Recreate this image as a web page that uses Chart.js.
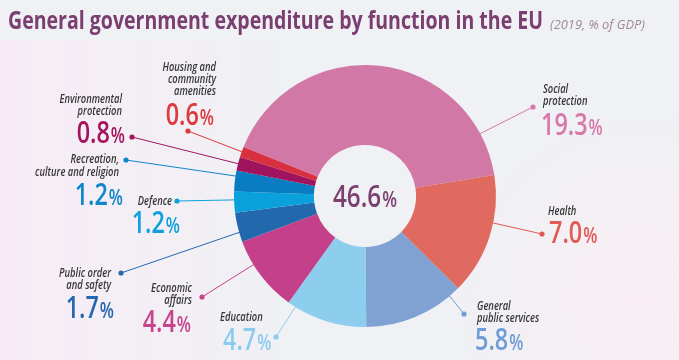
<!DOCTYPE html>
<html>
<head>
<meta charset="utf-8">
<script src="https://cdn.jsdelivr.net/npm/chart.js@4/dist/chart.umd.min.js"></script>
<style>
  html, body { margin: 0; padding: 0; background: #eff1f4; }
  canvas { display: block; }
</style>
</head>
<body>
<canvas id="chart" width="679" height="360"></canvas>
<script>
const categories = ["Social protection", "Health", "General public services", "Education", "Economic affairs",
  "Public order and safety", "Defence", "Recreation, culture and religion", "Environmental protection",
  "Housing and community amenities"];
const values = [19.3, 7.0, 5.8, 4.7, 4.4, 1.7, 1.2, 1.2, 0.8, 0.6];
const totalShare = 46.6;
const labelLines = [["Social", "protection"], ["Health"], ["General", "public services"], ["Education"],
  ["Economic", "affairs"], ["Public order", "and safety"], ["Defence"], ["Recreation,", "culture and religion"],
  ["Environmental", "protection"], ["Housing and", "community", "amenities"]];
const sliceColors = ["#d278a7", "#e06a5f", "#7fa2d2", "#8dcdee", "#c4408a", "#2168ad", "#0aa0db", "#0a7dc2", "#a0135f", "#d8303f"];
const textColors = ["#d977aa", "#e05a55", "#6f9bd6", "#8ccbee", "#c8428c", "#2468b0", "#11a0dc", "#0f86cb", "#a3155f", "#dc3a3d"];

// callout layout: name anchor x, align, name baselines, number anchor x, number baseline, dot, where the line meets the slice
const callouts = [
  { nx: 543, align: "left", ny: [93, 105], vx: 541, vy: 135, dot: [533, 107], at: 0.87 },
  { nx: 548, align: "left", ny: [215], vx: 549, vy: 243, dot: [542, 234], at: 0.39 },
  { nx: 477, align: "left", ny: [310, 322], vx: 475, vy: 350, dot: [464, 314], at: 0.11 },
  { nx: 220, align: "left", ny: [321], vx: 223, vy: 350, dot: [276, 337], at: 0.9 },
  { nx: 192, align: "right", ny: [292, 304], vx: 191, vy: 332, dot: [202, 297], at: 0.67 },
  { nx: 111, align: "right", ny: [277, 289], vx: 114, vy: 318, dot: [121, 273], at: 0.34 },
  { nx: 172, align: "right", ny: [205], vx: 180, vy: 233, dot: [177, 201], at: 0.6 },
  { nx: 119, align: "right", ny: [163, 176], vx: 123, vy: 205, dot: [126, 160], at: 0.74 },
  { nx: 122, align: "right", ny: [103, 115], vx: 125, vy: 143, dot: [132, 137], at: 0.5 },
  { nx: 216, align: "right", ny: [71, 83, 95], vx: 214, vy: 125, dot: [188, 131], at: 0.5 }
];

const FONT = "'Open Sans', 'Noto Sans', sans-serif";
const SQUEEZE = 0.78;

function drawText(ctx, text, x, y, font, color, align, sx) {
  ctx.font = font;
  const w = ctx.measureText(text).width * sx;
  const x0 = align === "right" ? x - w : align === "center" ? x - w / 2 : x;
  ctx.save();
  ctx.translate(x0, y);
  ctx.scale(sx, 1);
  ctx.fillStyle = color;
  ctx.textAlign = "left";
  ctx.textBaseline = "alphabetic";
  ctx.fillText(text, 0, 0);
  ctx.restore();
  return w;
}

function drawPercent(ctx, value, x, y, align, color, big, small) {
  const digits = value.toFixed(1);
  const fBig = "600 " + big + "px " + FONT;
  const fSmall = "600 " + small + "px " + FONT;
  ctx.font = fBig;
  const w1 = ctx.measureText(digits).width * SQUEEZE;
  ctx.font = fSmall;
  const w2 = ctx.measureText("%").width * SQUEEZE;
  const total = w1 + w2 + 1;
  const x0 = align === "right" ? x - total : align === "center" ? x - total / 2 : x;
  drawText(ctx, digits, x0, y, fBig, color, "left", SQUEEZE);
  drawText(ctx, "%", x0 + w1 + 1, y, fSmall, color, "left", SQUEEZE);
}

const backdrop = {
  id: "backdrop",
  beforeDraw(chart) {
    const ctx = chart.ctx;
    const w = chart.width, h = chart.height;
    ctx.save();
    ctx.fillStyle = "#eff1f4";
    ctx.fillRect(0, 0, w, h);
    let g = ctx.createLinearGradient(0, 0, 300, 0);
    g.addColorStop(0, "rgba(248,236,246,0.95)");
    g.addColorStop(1, "rgba(248,236,246,0)");
    ctx.fillStyle = g;
    ctx.fillRect(0, 40, w, h - 40);
    g = ctx.createRadialGradient(640, 300, 10, 640, 300, 200);
    g.addColorStop(0, "rgba(249,238,244,0.9)");
    g.addColorStop(1, "rgba(249,238,244,0)");
    ctx.fillStyle = g;
    ctx.fillRect(0, 0, w, h);
    ctx.restore();
  },
  beforeDatasetsDraw(chart) {
    const ctx = chart.ctx;
    const arcs = chart.getDatasetMeta(0).data;
    ctx.save();
    arcs.forEach((arc, i) => {
      const p = arc.getProps(["x", "y", "startAngle", "endAngle", "outerRadius"], true);
      const c = callouts[i];
      const a = p.startAngle + (p.endAngle - p.startAngle) * c.at;
      const r = p.outerRadius - 8;
      ctx.strokeStyle = textColors[i];
      ctx.lineWidth = 1;
      ctx.beginPath();
      ctx.moveTo(c.dot[0], c.dot[1]);
      ctx.lineTo(p.x + Math.cos(a) * r, p.y + Math.sin(a) * r);
      ctx.stroke();
      ctx.fillStyle = textColors[i];
      ctx.beginPath();
      ctx.arc(c.dot[0], c.dot[1], 2.6, 0, Math.PI * 2);
      ctx.fill();
    });
    ctx.restore();
  },
  afterDraw(chart) {
    const ctx = chart.ctx;
    const titleText = "General government expenditure by function in the EU";
    const tf = "700 25px " + FONT;
    ctx.font = tf;
    const tsx = 535 / ctx.measureText(titleText).width;
    drawText(ctx, titleText, 8, 29, tf, "#7a3e70", "left", tsx);
    const sf = "italic 400 12.5px " + FONT;
    ctx.font = sf;
    const ssx = 95 / ctx.measureText("(2019, % of GDP)").width;
    drawText(ctx, "(2019, % of GDP)", 550, 29, sf, "#a0879b", "left", ssx);

    callouts.forEach((c, i) => {
      labelLines[i].forEach((line, j) => {
        drawText(ctx, line, c.nx, c.ny[j], "italic 600 12px " + FONT, "#363636", c.align, SQUEEZE);
      });
      drawPercent(ctx, values[i], c.vx, c.vy, c.align, textColors[i], 30, 21);
    });

    const arc = chart.getDatasetMeta(0).data[0];
    drawPercent(ctx, totalShare, arc.x, arc.y + 11, "center", "#7b3f70", 31, 22);
  }
};

new Chart(document.getElementById("chart"), {
  type: "doughnut",
  data: {
    labels: categories,
    datasets: [{
      data: values,
      backgroundColor: sliceColors,
      borderWidth: 0,
      hoverOffset: 0
    }]
  },
  options: {
    responsive: false,
    animation: false,
    rotation: -68,
    cutout: "39%",
    layout: { padding: { left: 234, right: 183, top: 65, bottom: 33 } },
    plugins: {
      legend: { display: false },
      tooltip: { enabled: false },
      title: { display: false }
    }
  },
  plugins: [backdrop]
});
</script>
</body>
</html>
